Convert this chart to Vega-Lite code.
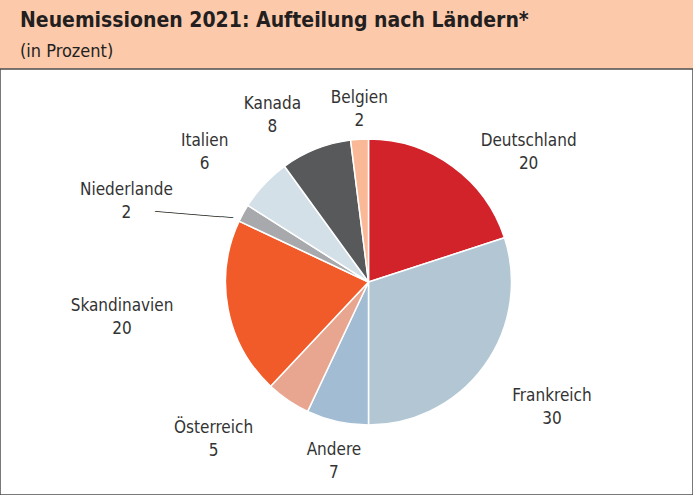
{
  "$schema": "https://vega.github.io/schema/vega-lite/v6.json",
  "width": 693,
  "height": 495,
  "autosize": {"type": "fit", "contains": "padding"},
  "padding": {"left": 0, "right": 0, "top": 10, "bottom": 0},
  "background": "#fcc9ab",
  "view": {"fill": "white", "stroke": "#4d4d4d", "strokeWidth": 1.5},
  "title": {
    "text": "Neuemissionen 2021: Aufteilung nach Ländern*",
    "subtitle": "(in Prozent)",
    "anchor": "start",
    "dx": 20,
    "font": "DejaVu Sans Condensed",
    "fontSize": 21,
    "fontWeight": "bold",
    "color": "#231f20",
    "subtitleFont": "DejaVu Sans Condensed",
    "subtitleFontSize": 18,
    "subtitleColor": "#231f20",
    "subtitlePadding": 12,
    "offset": 8
  },
  "config": {
    "text": {"font": "DejaVu Sans Condensed", "fontSize": 17, "color": "#333333", "lineHeight": 23}
  },
  "data": {
    "values": [
      {"land": "Deutschland", "anteil": 20, "ord": 1},
      {"land": "Frankreich", "anteil": 30, "ord": 2},
      {"land": "Andere", "anteil": 7, "ord": 3},
      {"land": "Österreich", "anteil": 5, "ord": 4},
      {"land": "Skandinavien", "anteil": 20, "ord": 5},
      {"land": "Niederlande", "anteil": 2, "ord": 6},
      {"land": "Italien", "anteil": 6, "ord": 7},
      {"land": "Kanada", "anteil": 8, "ord": 8},
      {"land": "Belgien", "anteil": 2, "ord": 9}
    ]
  },
  "transform": [
    {"stack": "anteil", "groupby": [], "sort": [{"field": "ord", "order": "ascending"}], "as": ["a0", "a1"]},
    {"calculate": "(datum.a0 + datum.a1) / 2", "as": "mitte"},
    {"calculate": "datum.land + '\\n' + datum.anteil", "as": "label"}
  ],
  "layer": [
    {
      "mark": {"type": "arc", "outerRadius": 143, "stroke": "white", "strokeWidth": 1.5, "xOffset": 22, "yOffset": 0},
      "encoding": {
        "theta": {"field": "a0", "type": "quantitative", "scale": {"domain": [0, 100]}},
        "theta2": {"field": "a1"},
        "color": {
          "field": "land",
          "type": "nominal",
          "legend": null,
          "scale": {
            "domain": ["Deutschland", "Frankreich", "Andere", "Österreich", "Skandinavien", "Niederlande", "Italien", "Kanada", "Belgien"],
            "range": ["#d2232a", "#b2c7d3", "#a2bcd3", "#e8a690", "#f15a29", "#a7a9ac", "#d3e0e8", "#58595b", "#f9b996"]
          }
        }
      }
    },
    {
      "transform": [{"filter": "datum.land === 'Deutschland'"}],
      "mark": {"type": "text", "radius": 206, "thetaOffset": 0.262, "lineBreak": "\n", "xOffset": 22, "yOffset": 0, "dy": -11.5},
      "encoding": {"theta": {"field": "mitte", "type": "quantitative", "stack": null}, "text": {"field": "label"}}
    },
    {
      "transform": [{"filter": "datum.land === 'Frankreich'"}],
      "mark": {"type": "text", "radius": 222, "thetaOffset": -0.03, "lineBreak": "\n", "xOffset": 22, "yOffset": 0, "dy": -11.5},
      "encoding": {"theta": {"field": "mitte", "type": "quantitative", "stack": null}, "text": {"field": "label"}}
    },
    {
      "transform": [{"filter": "datum.land === 'Andere'"}],
      "mark": {"type": "text", "radius": 183, "thetaOffset": -0.03, "lineBreak": "\n", "xOffset": 22, "yOffset": 0, "dy": -11.5},
      "encoding": {"theta": {"field": "mitte", "type": "quantitative", "stack": null}, "text": {"field": "label"}}
    },
    {
      "transform": [{"filter": "datum.land === 'Österreich'"}],
      "mark": {"type": "text", "radius": 221, "thetaOffset": 0.18, "lineBreak": "\n", "xOffset": 22, "yOffset": 0, "dy": -11.5},
      "encoding": {"theta": {"field": "mitte", "type": "quantitative", "stack": null}, "text": {"field": "label"}}
    },
    {
      "transform": [{"filter": "datum.land === 'Skandinavien'"}],
      "mark": {"type": "text", "radius": 249, "thetaOffset": 0.044, "lineBreak": "\n", "xOffset": 22, "yOffset": 0, "dy": -11.5},
      "encoding": {"theta": {"field": "mitte", "type": "quantitative", "stack": null}, "text": {"field": "label"}}
    },
    {
      "transform": [{"filter": "datum.land === 'Niederlande'"}],
      "mark": {"type": "text", "radius": 255, "thetaOffset": -0.183, "lineBreak": "\n", "xOffset": 22, "yOffset": 0, "dy": -11.5},
      "encoding": {"theta": {"field": "mitte", "type": "quantitative", "stack": null}, "text": {"field": "label"}}
    },
    {
      "transform": [{"filter": "datum.land === 'Italien'"}],
      "mark": {"type": "text", "radius": 209, "thetaOffset": -0.084, "lineBreak": "\n", "xOffset": 22, "yOffset": 0, "dy": -11.5},
      "encoding": {"theta": {"field": "mitte", "type": "quantitative", "stack": null}, "text": {"field": "label"}}
    },
    {
      "transform": [{"filter": "datum.land === 'Kanada'"}],
      "mark": {"type": "text", "radius": 192, "thetaOffset": -0.147, "lineBreak": "\n", "xOffset": 22, "yOffset": 0, "dy": -11.5},
      "encoding": {"theta": {"field": "mitte", "type": "quantitative", "stack": null}, "text": {"field": "label"}}
    },
    {
      "transform": [{"filter": "datum.land === 'Belgien'"}],
      "mark": {"type": "text", "radius": 173, "thetaOffset": 0.01, "lineBreak": "\n", "xOffset": 22, "yOffset": 0, "dy": -11.5},
      "encoding": {"theta": {"field": "mitte", "type": "quantitative", "stack": null}, "text": {"field": "label"}}
    },
    {
      "transform": [{"filter": "datum.land === 'Niederlande'"}],
      "mark": {"type": "text", "radius": 187, "thetaOffset": -0.136, "font": "DejaVu Sans Mono", "fontSize": 10, "color": "#231f20", "angle": 4.6, "xOffset": 22, "yOffset": 0},
      "encoding": {"theta": {"field": "mitte", "type": "quantitative", "stack": null}, "text": {"value": "─────────────"}}
    }
  ]
}
